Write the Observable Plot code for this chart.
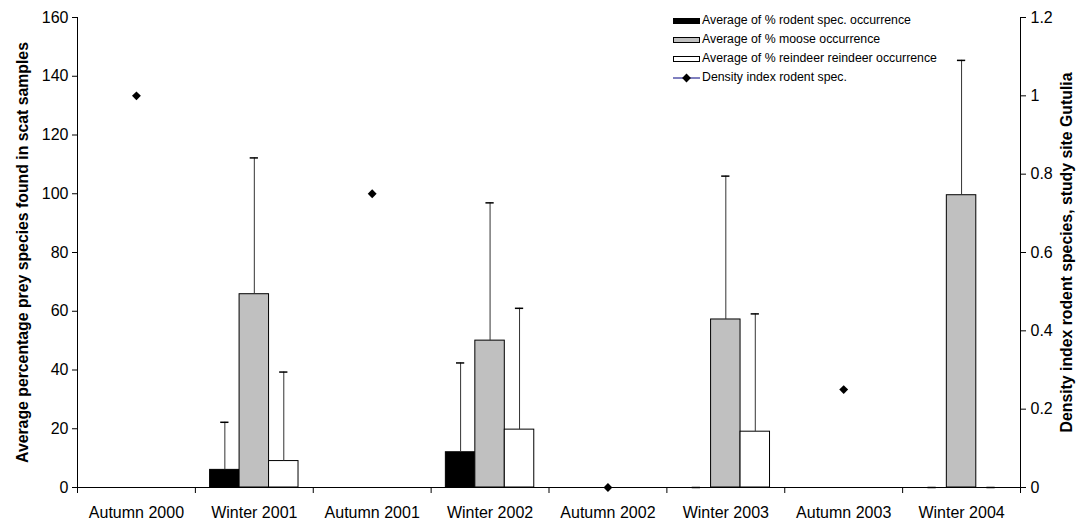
<!DOCTYPE html>
<html>
<head>
<meta charset="utf-8">
<script src="https://cdn.jsdelivr.net/npm/d3@7"></script>
<script src="https://cdn.jsdelivr.net/npm/@observablehq/plot@0.6"></script>
<style>
  body { margin: 0; background: #fff; font-family: "Liberation Sans", Arial, sans-serif; }
  #wrap { position: relative; width: 1083px; height: 529px; }
  #legend { position: absolute; left: 673px; top: 11px; font-size: 12.3px; color: #000; line-height: 19px; }
  #legend .row { height: 19px; display: flex; align-items: center; white-space: nowrap; }
  #legend .sw { box-sizing: border-box; width: 27px; height: 6px; border: 1px solid #000; margin-right: 2px; }
  #legend svg { margin-right: 2px; }
  svg [aria-label="y-axis label"] text, svg g[aria-label="y-axis label"] { font-weight: bold; font-size: 15.8px; }
</style>
</head>
<body>
<div id="wrap"><div id="chart"></div><div id="legend"></div></div>
<script>
// ---- data ----
const categories = ["Autumn 2000", "Winter 2001", "Autumn 2001", "Winter 2002", "Autumn 2002", "Winter 2003", "Autumn 2003", "Winter 2004"];
const seriesNames = ["Average of % rodent spec. occurrence", "Average of % moose occurrence", "Average of % reindeer reindeer occurrence"];
const lineName = "Density index rodent spec.";
const rodentMean   = [null, 6.0,  null, 12.0, null, 0,    null, 0];
const rodentErr    = [null, 16.2, null, 30.4, null, 0,    null, 0];
const mooseMean    = [null, 65.8, null, 50.0, null, 57.2, null, 99.5];
const mooseErr     = [null, 46.4, null, 46.9, null, 48.8, null, 45.9];
const reindeerMean = [null, 9.0,  null, 19.7, null, 19.0, null, 0];
const reindeerErr  = [null, 30.3, null, 41.3, null, 40.1, null, 0];
const densityIndex = [1.0, null, 0.75, null, 0.0, null, 0.25, null];
const leftTicks  = [0, 20, 40, 60, 80, 100, 120, 140, 160];
const rightTicks = [0, 0.2, 0.4, 0.6, 0.8, 1.0, 1.2];
const leftTitle  = "Average percentage prey species found in scat samples";
const rightTitle = "Density index rodent species, study site Gutulia";
const fills = ["#000000", "#c0c0c0", "#ffffff"];

// ---- derived tables ----
const leftMax = 160, rightMax = 1.2, k = leftMax / rightMax;
const means = [rodentMean, mooseMean, reindeerMean];
const errs = [rodentErr, mooseErr, reindeerErr];
const barW = 0.25, groupStart = 0.125, capHalf = 0.035;
const bars = [];
categories.forEach((c, i) => {
  means.forEach((m, s) => {
    if (m[i] == null) return;
    const x1 = i + groupStart + barW * s;
    bars.push({category: c, series: seriesNames[s], x1, x2: x1 + barW, center: x1 + barW / 2,
               value: m[i], top: m[i] + errs[s][i]});
  });
});
const density = categories.map((c, i) => ({category: c, center: i + 0.5, d: densityIndex[i]}))
  .filter(d => d.d != null).map(d => ({...d, y: d.d * k}));

const plot = Plot.plot({
  width: 1083, height: 529,
  marginTop: 17, marginLeft: 77, marginRight: 63, marginBottom: 42,
  style: {fontFamily: '"Liberation Sans", Arial, sans-serif', fontSize: "16px", color: "#000", background: "#fff"},
  x: {domain: [0, categories.length]},
  y: {domain: [0, leftMax]},
  color: {domain: seriesNames, range: fills},
  marks: [
    Plot.rectY(bars, {x1: "x1", x2: "x2", y: "value", fill: "series", stroke: "#000", strokeWidth: 1}),
    Plot.ruleX(bars, {x: "center", y1: "value", y2: "top", stroke: "#333", strokeWidth: 1}),
    Plot.ruleY(bars, {y: "top", x1: d => d.center - capHalf, x2: d => d.center + capHalf, stroke: "#000", strokeWidth: 1.5}),
    Plot.ruleX([0, categories.length], {stroke: "#000"}),
    Plot.ruleY([0], {stroke: "#000"}),
    Plot.dot(density, {x: "center", y: "y", symbol: "diamond2", r: 4, fill: "#000", stroke: "none"}),
    Plot.axisY({anchor: "left", ticks: leftTicks, tickSize: 5, tickPadding: 4, label: leftTitle, labelAnchor: "center", labelArrow: "none", labelOffset: 61}),
    Plot.axisY({anchor: "right", ticks: rightTicks.map(v => v * k), tickSize: 5, tickPadding: 5,
      tickFormat: v => String(+(v / k).toFixed(1)), label: rightTitle, labelAnchor: "center", labelArrow: "none", labelOffset: 51}),
    Plot.axisX({ticks: d3.range(0, categories.length + 1), tickSize: 6, tickFormat: () => "", label: null}),
    Plot.axisX({ticks: categories.map((c, i) => i + 0.5), tickSize: 0, tickPadding: 19,
      tickFormat: v => categories[Math.floor(v)], label: null})
  ]
});
document.getElementById("chart").appendChild(plot);

// ---- legend (HTML overlay in the plot area, as in the reference) ----
const legend = d3.select("#legend");
seriesNames.forEach((n, i) => {
  const row = legend.append("div").attr("class", "row");
  row.append("div").attr("class", "sw").style("background", fills[i]);
  row.append("span").text(n);
});
const lrow = legend.append("div").attr("class", "row");
const ls = lrow.append("svg").attr("width", 27).attr("height", 10);
ls.append("line").attr("x1", 0).attr("x2", 27).attr("y1", 5).attr("y2", 5).attr("stroke", "#000080").attr("stroke-width", 1);
ls.append("path").attr("d", d3.symbol(d3.symbolDiamond2, 50)()).attr("transform", "translate(13.5,5)").attr("fill", "#000");
lrow.append("span").text(lineName);
</script>
</body>
</html>
